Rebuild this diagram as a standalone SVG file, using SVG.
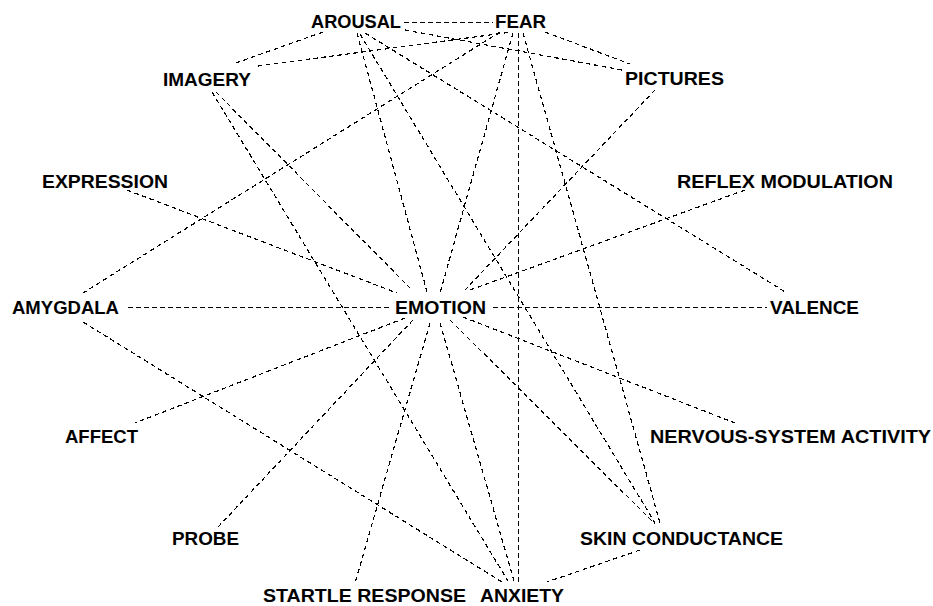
<svg xmlns="http://www.w3.org/2000/svg" width="933" height="606" viewBox="0 0 933 606">
<style>
.bg{fill:#ffffff}
.e{stroke:#000;stroke-width:1.2;stroke-dasharray:4.5,3.5;fill:none;shape-rendering:crispEdges}
.t{font-family:"Liberation Sans",Arial,sans-serif;font-weight:bold;font-size:19px;fill:#000}
</style>
<rect class="bg" x="0" y="0" width="933" height="606"/>
<g id="connectors">
<line class="e" x1="404" y1="22.5" x2="493" y2="22.5"/>
<line class="e" x1="323" y1="32" x2="233" y2="64"/>
<line class="e" x1="258" y1="66" x2="512" y2="32"/>
<line class="e" x1="405" y1="30" x2="622" y2="70"/>
<line class="e" x1="545" y1="32" x2="630" y2="64"/>
<line class="e" x1="500" y1="32" x2="83" y2="293"/>
<line class="e" x1="365" y1="33" x2="787" y2="293"/>
<line class="e" x1="360" y1="34" x2="655" y2="523"/>
<line class="e" x1="357" y1="33" x2="427" y2="292"/>
<line class="e" x1="440" y1="323" x2="514" y2="581"/>
<line class="e" x1="513" y1="33" x2="440" y2="293"/>
<line class="e" x1="430" y1="323" x2="355" y2="583"/>
<line class="e" x1="518.5" y1="33" x2="518.5" y2="582"/>
<line class="e" x1="523" y1="33" x2="660" y2="523"/>
<line class="e" x1="216" y1="92" x2="410" y2="288"/>
<line class="e" x1="450" y1="320" x2="655" y2="524"/>
<line class="e" x1="212" y1="92" x2="508" y2="581"/>
<line class="e" x1="127" y1="190" x2="397" y2="293"/>
<line class="e" x1="463" y1="317" x2="735" y2="423"/>
<line class="e" x1="128" y1="307.5" x2="392" y2="307.5"/>
<line class="e" x1="493" y1="307.5" x2="767" y2="307.5"/>
<line class="e" x1="655" y1="90" x2="465" y2="290"/>
<line class="e" x1="413" y1="320" x2="218" y2="527"/>
<line class="e" x1="470" y1="290" x2="745" y2="190"/>
<line class="e" x1="405" y1="318" x2="135" y2="423"/>
<line class="e" x1="83" y1="322" x2="502" y2="582"/>
<line class="e" x1="640" y1="550" x2="547" y2="582"/>
</g>
<g id="arousal"><text class="t" x="311" y="28" textLength="90" lengthAdjust="spacingAndGlyphs">AROUSAL</text></g>
<g id="fear"><text class="t" x="495" y="28" textLength="51" lengthAdjust="spacingAndGlyphs">FEAR</text></g>
<g id="imagery"><text class="t" x="163" y="86" textLength="88" lengthAdjust="spacingAndGlyphs">IMAGERY</text></g>
<g id="pictures"><text class="t" x="625" y="85" textLength="99" lengthAdjust="spacingAndGlyphs">PICTURES</text></g>
<g id="expression"><text class="t" x="42" y="188" textLength="126" lengthAdjust="spacingAndGlyphs">EXPRESSION</text></g>
<g id="reflex-modulation"><text class="t" x="677" y="188" textLength="216" lengthAdjust="spacingAndGlyphs">REFLEX MODULATION</text></g>
<g id="amygdala"><text class="t" x="12" y="314" textLength="107" lengthAdjust="spacingAndGlyphs">AMYGDALA</text></g>
<g id="emotion"><text class="t" x="395" y="314" textLength="91" lengthAdjust="spacingAndGlyphs">EMOTION</text></g>
<g id="valence"><text class="t" x="770" y="314" textLength="89" lengthAdjust="spacingAndGlyphs">VALENCE</text></g>
<g id="affect"><text class="t" x="65" y="443" textLength="73" lengthAdjust="spacingAndGlyphs">AFFECT</text></g>
<g id="nervous-system-activity"><text class="t" x="650" y="443" textLength="281" lengthAdjust="spacingAndGlyphs">NERVOUS-SYSTEM ACTIVITY</text></g>
<g id="probe"><text class="t" x="172" y="545" textLength="67" lengthAdjust="spacingAndGlyphs">PROBE</text></g>
<g id="skin-conductance"><text class="t" x="580" y="545" textLength="203" lengthAdjust="spacingAndGlyphs">SKIN CONDUCTANCE</text></g>
<g id="startle-response"><text class="t" x="263" y="602" textLength="203" lengthAdjust="spacingAndGlyphs">STARTLE RESPONSE</text></g>
<g id="anxiety"><text class="t" x="480" y="602" textLength="84" lengthAdjust="spacingAndGlyphs">ANXIETY</text></g>
</svg>
